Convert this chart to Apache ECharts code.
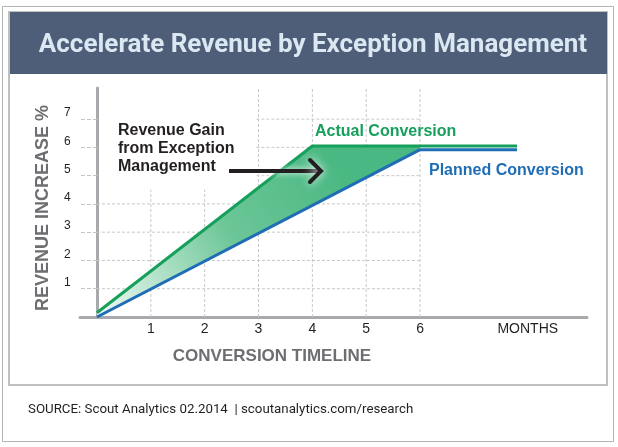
<!DOCTYPE html>
<html>
<head>
<meta charset="utf-8">
<script src="https://cdn.jsdelivr.net/npm/echarts@6/dist/echarts.min.js"></script>
<style>
  html, body { margin: 0; padding: 0; background: #fff; }
  #chart { width: 618px; height: 447px; }
</style>
</head>
<body>
<div id="chart"></div>
<script>
// values
const actualMonths = [0, 4, 6, 7.8];
const actualValues = [0.15, 6.05, 6.05, 6.05];
const plannedMonths = [0, 6, 7.8];
const plannedValues = [0, 5.92, 5.92];

const monthTicks = [1, 2, 3, 4, 5, 6, 8];   // 8 is where "MONTHS" sits
const levelTicks = [1, 2, 3, 4, 5, 6, 7];
const gridMonths = [1, 2, 3, 4, 5, 6];
const gridLevels = [1, 2, 3, 4, 5, 6, 7];
// the annotation box hides the top-left part of the grid
const maskRight = 2.96;
const maskTop = 4.5;

const chart = echarts.init(document.getElementById('chart'));

// gridline segments [x0, y0, x1, y1]
const gridSegments = [];
gridMonths.forEach(m => gridSegments.push([m, 0, m, m < 3 ? maskTop : 8.1]));
gridLevels.forEach(v => gridSegments.push([v >= 5 ? maskRight : 0, v, 6, v]));

// fill between actual and planned, up to month 6
const upper = actualMonths.map((m, i) => [m, actualValues[i]]).filter(p => p[0] <= 6);
const lower = plannedMonths.map((m, i) => [m, plannedValues[i]]).filter(p => p[0] <= 6).reverse();
const gapPolygon = upper.concat(lower);

const option = {
  backgroundColor: '#fff',
  animation: false,
  grid: { left: 80, right: 31, top: 88, bottom: 130 },
  xAxis: {
    type: 'value',
    min: -0.315,
    max: 9.1,
    splitLine: { show: false },
    axisTick: { show: false },
    axisLine: { lineStyle: { color: '#a7a9ac', width: 3 } },
    axisLabel: {
      customValues: monthTicks,
      formatter: v => (v === 8 ? 'MONTHS' : String(v)),
      color: '#231f20',
      fontFamily: 'Liberation Sans',
      fontSize: 14,
      margin: 5
    }
  },
  yAxis: {
    type: 'value',
    min: 0,
    max: 8.1,
    splitLine: { show: false },
    axisLine: { show: true, onZero: true, lineStyle: { color: '#a7a9ac', width: 3 } },
    axisTick: {
      show: true,
      customValues: levelTicks,
      length: 17,
      lineStyle: { color: '#c4c4c4', width: 1, type: 'dashed' }
    },
    axisLabel: {
      customValues: levelTicks,
      align: 'left',
      verticalAlign: 'bottom',
      margin: 16,
      color: '#231f20',
      fontFamily: 'Liberation Sans',
      fontSize: 12
    }
  },
  graphic: [
    { type: 'rect', z: -1, shape: { x: 2.5, y: 6.5, width: 611, height: 435 },
      style: { fill: 'none', stroke: '#b3b3b3', lineWidth: 1 } },
    { type: 'rect', z: -1, shape: { x: 9, y: 12, width: 598, height: 373 },
      style: { fill: 'none', stroke: '#bfbfbf', lineWidth: 2 } },
    { type: 'rect', z: 0, shape: { x: 10, y: 12, width: 597, height: 62 },
      style: { fill: '#4f5e78' } },
    { type: 'text', z: 1, x: 313, y: 45,
      style: { text: 'Accelerate Revenue by Exception Management', fill: '#dbe7f1',
        font: 'bold 26px Roboto', textAlign: 'center', textVerticalAlign: 'middle' } },
    { type: 'text', z: 5, x: 43, y: 208, rotation: Math.PI / 2,
      style: { text: 'REVENUE INCREASE %', fill: '#6d6e71',
        font: 'bold 18px "Liberation Sans"', textAlign: 'center', textVerticalAlign: 'middle' } },
    { type: 'text', z: 5, x: 272, y: 356,
      style: { text: 'CONVERSION TIMELINE', fill: '#6d6e71',
        font: 'bold 17px "Liberation Sans"', textAlign: 'center', textVerticalAlign: 'middle' } },
    { type: 'text', z: 5, x: 118, y: 122,
      style: { text: 'Revenue Gain\nfrom Exception\nManagement', fill: '#231f20', lineHeight: 18,
        font: 'bold 16px "Liberation Sans"', textAlign: 'left', textVerticalAlign: 'top' } },
    { type: 'text', z: 5, x: 315, y: 132,
      style: { text: 'Actual Conversion', fill: '#16a05c',
        font: 'bold 16px "Liberation Sans"', textAlign: 'left', textVerticalAlign: 'middle' } },
    { type: 'text', z: 5, x: 429, y: 171,
      style: { text: 'Planned Conversion', fill: '#1f6db5',
        font: 'bold 16px "Liberation Sans"', textAlign: 'left', textVerticalAlign: 'middle' } },
    { type: 'polyline', z: 10, shape: { points: [[229, 171], [320, 171]] },
      style: { stroke: '#231f20', lineWidth: 4, shadowColor: 'rgba(255,255,255,0.9)', shadowBlur: 6 } },
    { type: 'polyline', z: 10, shape: { points: [[310, 160], [321, 171], [310, 182]] },
      style: { stroke: '#231f20', lineWidth: 4, lineCap: 'round', lineJoin: 'miter',
        shadowColor: 'rgba(255,255,255,0.95)', shadowBlur: 10 } },
    { type: 'text', z: 5, x: 28, y: 410,
      style: { text: 'SOURCE: Scout Analytics 02.2014  | scoutanalytics.com/research', fill: '#231f20',
        font: '13.3px Roboto', textAlign: 'left', textVerticalAlign: 'middle' } }
  ],
  series: [
    {
      name: 'grid',
      type: 'custom',
      silent: true,
      z: 1,
      data: gridSegments,
      renderItem: function (params, api) {
        const a = api.coord([api.value(0), api.value(1)]);
        const b = api.coord([api.value(2), api.value(3)]);
        return {
          type: 'line',
          shape: { x1: a[0], y1: a[1], x2: b[0], y2: b[1] },
          style: { stroke: '#c8c8c8', lineWidth: 1, lineDash: [3, 2] }
        };
      }
    },
    {
      name: 'gain',
      type: 'custom',
      silent: true,
      z: 2,
      data: [0],
      renderItem: function (params, api) {
        const pts = gapPolygon.map(p => api.coord(p));
        return {
          type: 'polygon',
          shape: { points: pts },
          style: {
            fill: new echarts.graphic.LinearGradient(0, 1, 0.75, 0.1, [
              { offset: 0, color: '#f2fbf6' },
              { offset: 0.55, color: '#6cc697' },
              { offset: 1, color: '#4ab882' }
            ])
          }
        };
      }
    },
    {
      name: 'Planned Conversion',
      type: 'line',
      z: 3,
      showSymbol: false,
      data: plannedMonths.map((m, i) => [m, plannedValues[i]]),
      lineStyle: { color: '#1f6db5', width: 3 }
    },
    {
      name: 'Actual Conversion',
      type: 'line',
      z: 4,
      showSymbol: false,
      data: actualMonths.map((m, i) => [m, actualValues[i]]),
      lineStyle: { color: '#16a05c', width: 3 }
    }
  ]
};

chart.setOption(option);
</script>
</body>
</html>
